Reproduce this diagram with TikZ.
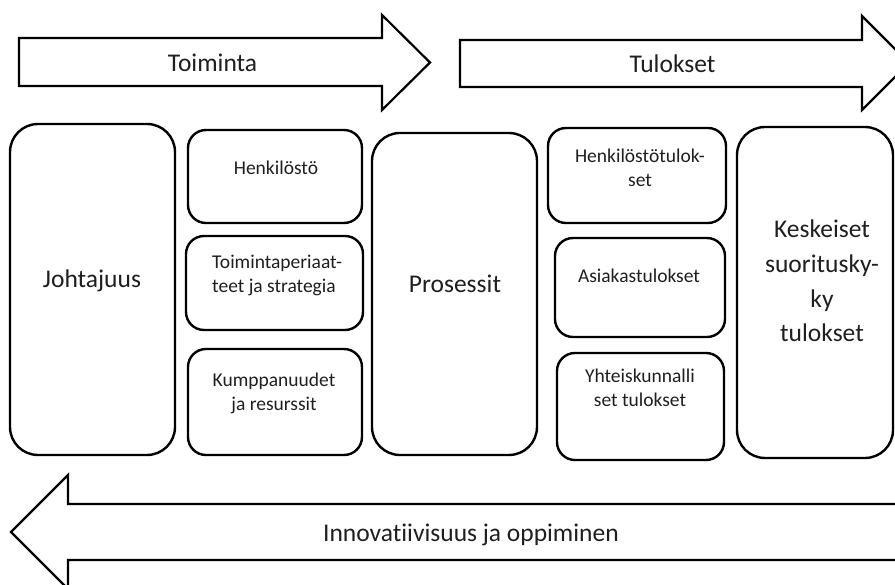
\documentclass[tikz,border=0pt]{standalone}
\usepackage{fontspec}
\setmainfont{Carlito}[Ligatures=NoCommon]
\begin{document}
\begin{tikzpicture}[x=1pt,y=-1pt,
  rbox/.style={draw, line width=2.4pt, rounded corners=#1, inner sep=0pt},
  rbox/.default=18pt,
  flow/.style={draw, line width=2.2pt, line join=miter, fill=white},
  big/.style={font=\fontsize{25.5}{34.7}\selectfont, text=black!88, inner sep=0pt, anchor=base, align=center},
  small/.style={font=\fontsize{19.5}{24.5}\selectfont, text=black!88, inner sep=0pt, anchor=base, align=center},
]
\useasboundingbox (0,0) rectangle (895,585);
\clip (0,0) rectangle (895,585);

% block arrows
\draw[flow] (19,38) -- (382,38) -- (382,15) -- (430,62.5) -- (382,110) -- (382,86) -- (19,86) -- cycle;
\draw[flow] (460,40) -- (862,40) -- (862,16) -- (909,63) -- (862,110) -- (862,87) -- (460,87) -- cycle;
\draw[flow] (905,504) -- (68,504) -- (68,475) -- (11,532) -- (68,589) -- (68,560) -- (905,560);

\node[big] (toiminta) at (212.5,72) {Toiminta};
\node[big] (tulokset) at (672.5,73) {Tulokset};
\node[big] (innov) at (471,541) {Innovatiivisuus ja oppiminen};

% tall boxes
\node[rbox=28pt, minimum width=165pt, minimum height=331pt] (joht) at (92.5,289.5) {};
\node[rbox=28pt, minimum width=165pt, minimum height=322pt] (pros) at (454.5,294) {};
\node[rbox=28pt, minimum width=156pt, minimum height=331pt] (kesk) at (815,292.5) {};

% small boxes, left column
\node[rbox, minimum width=174pt, minimum height=93pt] (henk) at (275,176.5) {};
\node[rbox, minimum width=177pt, minimum height=94pt] (toim) at (274.5,283) {};
\node[rbox, minimum width=174pt, minimum height=106pt] (kump) at (275,402) {};

% small boxes, right column
\node[rbox, minimum width=178pt, minimum height=95pt] (hres) at (637,175.5) {};
\node[rbox, minimum width=170pt, minimum height=99pt] (asia) at (640,287.5) {};
\node[rbox, minimum width=167pt, minimum height=107pt] (yhte) at (640.5,406.5) {};

% labels (multi-line labels sit on the baseline of their last line)
\node[big] (joht-t) at (92,288) {Johtajuus};
\node[big] (pros-t) at (455,293) {Prosessit};
\node[big] (kesk-t) at (822,342) {Keskeiset\\suoritusky-\\ky\\tulokset};

\node[small] (henk-t) at (276,175) {Henkilöstö};
\node[small, anchor=base west, align=left] (toim-t) at (212,293) {Toimintaperiaat-\\teet ja strategia};
\node[small] (kump-t) at (274,411) {Kumppanuudet\\ja resurssit};

\node[small] (hres-t) at (640,187) {Henkilöstötulok-\\set};
\node[small] (asia-t) at (639,283) {Asiakastulokset};
\node[small] (yhte-t) at (640,407) {Yhteiskunnalli\\set tulokset};
\end{tikzpicture}
\end{document}
